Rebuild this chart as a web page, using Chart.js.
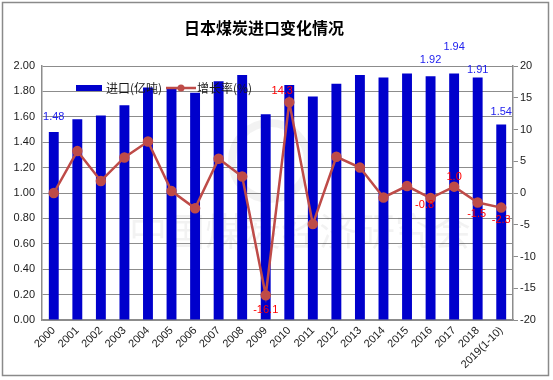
<!DOCTYPE html>
<html>
<head>
<meta charset="utf-8">
<script src="https://cdn.jsdelivr.net/npm/chart.js@4/dist/chart.umd.min.js"></script>
<style>
  html, body { margin: 0; padding: 0; background: #fff; }
  canvas { display: block; }
</style>
</head>
<body>
<canvas id="c" width="553" height="380"></canvas>
<script>
const categories = ['2000','2001','2002','2003','2004','2005','2006','2007','2008','2009',
  '2010','2011','2012','2013','2014','2015','2016','2017','2018','2019(1-10)'];
const importVolume = [1.48,1.58,1.61,1.69,1.83,1.82,1.79,1.88,1.93,1.62,
  1.85,1.76,1.86,1.93,1.91,1.94,1.92,1.94,1.91,1.54];
const growthRate = [0.0,6.6,1.9,5.6,8.1,0.3,-2.4,5.4,2.6,-16.1,
  14.3,-4.9,5.7,4.0,-0.7,1.1,-0.8,1.0,-1.5,-2.3];
const leftTicks = { min: 0, max: 2, step: 0.2 };
const rightTicks = { min: -20, max: 20, step: 5 };
const seriesNames = ['进口(亿吨)', '增长率(%)'];
const titleText = '日本煤炭进口变化情况';
const watermarkText = '中国煤炭经济研究会';
// which points carry value labels
const barLabelIdx = [0,16,17,18,19];
const lineLabelIdx = [9,10,16,17,18,19];

const BAR_COLOR = '#0000CC';
const LINE_COLOR = '#BE4B48';
const GRID = '#8c8c8c';
const TEXT = '#1a1a1a';

// label offsets (style, pixels relative to the mark)
const barLabelOffset = {0:-15, 16:-16, 17:-27, 18:-7, 19:-12};
const lineLabelOffset = {9:[0,15], 10:[-7,-11], 16:[-6,7], 17:[0,-10], 18:[-1,11], 19:[0,12]};

const framePlugin = {
  id: 'frame',
  beforeDraw(chart) {
    const ctx = chart.ctx;
    ctx.save();
    ctx.fillStyle = '#fff';
    ctx.fillRect(0, 0, chart.width, chart.height);
    ctx.strokeStyle = '#8a8a8a';
    ctx.lineWidth = 1.5;
    ctx.strokeRect(2.5, 2.5, 546, 373);
    // title
    ctx.fillStyle = '#000';
    ctx.font = 'bold 16px "Noto Sans CJK SC", sans-serif';
    ctx.textAlign = 'center';
    ctx.textBaseline = 'middle';
    ctx.fillText(titleText, 264, 28);
    ctx.restore();
  },
  beforeDatasetsDraw(chart) {
    const ctx = chart.ctx;
    const a = chart.chartArea;
    ctx.save();
    ctx.strokeStyle = 'rgba(0,0,0,0.05)';
    ctx.lineWidth = 8;
    ctx.beginPath();
    ctx.arc(a.left + 228, a.top + 95, 38, 0, Math.PI * 2);
    ctx.stroke();
    ctx.fillStyle = 'rgba(0,0,0,0.05)';
    ctx.font = '38px "Noto Sans CJK SC", sans-serif';
    ctx.textAlign = 'center';
    ctx.textBaseline = 'middle';
    ctx.fillText(watermarkText, a.left + 258, a.top + 165);
    ctx.restore();
  },
  afterDatasetsDraw(chart) {
    const ctx = chart.ctx;
    const a = chart.chartArea;
    ctx.save();
    // legend inside plot area
    ctx.font = '12px "Noto Sans CJK SC", sans-serif';
    ctx.textBaseline = 'middle';
    ctx.textAlign = 'left';
    const ly = 88;
    ctx.fillStyle = BAR_COLOR;
    ctx.fillRect(76, ly - 3, 26, 6);
    ctx.fillStyle = TEXT;
    ctx.fillText(seriesNames[0], 106, ly);
    ctx.strokeStyle = LINE_COLOR;
    ctx.lineWidth = 2.5;
    ctx.beginPath(); ctx.moveTo(166, ly); ctx.lineTo(196, ly); ctx.stroke();
    ctx.fillStyle = LINE_COLOR;
    ctx.beginPath(); ctx.arc(181, ly, 3.5, 0, Math.PI * 2); ctx.fill();
    ctx.fillStyle = TEXT;
    ctx.fillText(seriesNames[1], 197, ly);

    // value labels
    ctx.font = '11px "Liberation Sans", sans-serif';
    ctx.textAlign = 'center';
    const barMeta = chart.getDatasetMeta(0);
    ctx.fillStyle = '#2222EE';
    barLabelIdx.forEach(i => {
      const el = barMeta.data[i];
      ctx.fillText(importVolume[i].toFixed(2), el.x, el.y + barLabelOffset[i]);
    });
    const lineMeta = chart.getDatasetMeta(1);
    ctx.fillStyle = '#FF0000';
    lineLabelIdx.forEach(i => {
      const el = lineMeta.data[i];
      const o = lineLabelOffset[i];
      ctx.fillText(growthRate[i].toFixed(1), el.x + o[0], el.y + o[1]);
    });
    ctx.restore();
  }
};

new Chart(document.getElementById('c'), {
  type: 'bar',
  data: {
    labels: categories,
    datasets: [
      {
        type: 'bar',
        label: seriesNames[0],
        data: importVolume,
        backgroundColor: BAR_COLOR,
        yAxisID: 'y',
        barPercentage: 0.42,
        categoryPercentage: 1.0,
        order: 2
      },
      {
        type: 'line',
        label: seriesNames[1],
        data: growthRate,
        borderColor: LINE_COLOR,
        backgroundColor: LINE_COLOR,
        borderWidth: 2.5,
        pointRadius: 4,
        pointBackgroundColor: LINE_COLOR,
        pointBorderColor: LINE_COLOR,
        tension: 0,
        yAxisID: 'y1',
        order: 1
      }
    ]
  },
  options: {
    responsive: false,
    animation: false,
    devicePixelRatio: 1,
    layout: { padding: { top: 66, left: 0, right: 0, bottom: 0 } },
    plugins: {
      legend: { display: false },
      title: { display: false },
      tooltip: { enabled: false }
    },
    scales: {
      x: {
        grid: { display: false, drawTicks: false },
        border: { display: true, color: GRID, width: 1.5 },
        ticks: {
          color: TEXT,
          font: { family: 'Liberation Sans', size: 11 },
          maxRotation: 45, minRotation: 45,
          padding: 4,
          autoSkip: false
        },
        afterFit(s) { s.height = 60; }
      },
      y: {
        position: 'left',
        min: leftTicks.min, max: leftTicks.max,
        grid: { color: GRID, lineWidth: 1, drawTicks: false },
        border: { display: true, color: GRID, width: 1.5 },
        ticks: {
          stepSize: leftTicks.step,
          color: TEXT,
          font: { family: 'Liberation Sans', size: 11 },
          padding: 7,
          callback: v => Number(v).toFixed(2)
        },
        afterFit(s) { s.width = 42; }
      },
      y1: {
        position: 'right',
        min: rightTicks.min, max: rightTicks.max,
        grid: { drawOnChartArea: false, color: GRID, tickLength: 5 },
        border: { display: true, color: GRID, width: 1.5 },
        ticks: {
          stepSize: rightTicks.step,
          color: TEXT,
          font: { family: 'Liberation Sans', size: 11 },
          padding: 2
        },
        afterFit(s) { s.width = 40; }
      }
    }
  },
  plugins: [framePlugin]
});
</script>
</body>
</html>
